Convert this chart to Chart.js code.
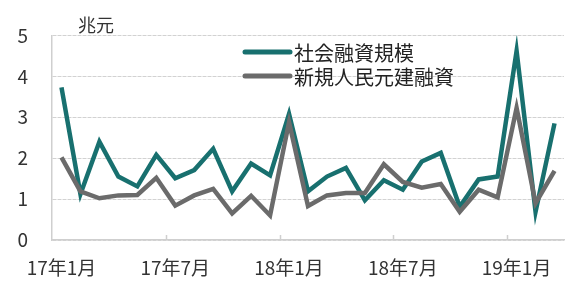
<!DOCTYPE html>
<html>
<head>
<meta charset="utf-8">
<script src="https://cdn.jsdelivr.net/npm/chart.js@4.4.1/dist/chart.umd.min.js"></script>
<style>
  html, body { margin: 0; padding: 0; background: #fff; }
  #wrap { width: 579px; height: 300px; position: relative; }
</style>
</head>
<body>
<div id="wrap"><canvas id="chart"></canvas></div>
<script>
// 月次データ（17年1月〜19年3月）
const months = [
  '17年1月','17年2月','17年3月','17年4月','17年5月','17年6月',
  '17年7月','17年8月','17年9月','17年10月','17年11月','17年12月',
  '18年1月','18年2月','18年3月','18年4月','18年5月','18年6月',
  '18年7月','18年8月','18年9月','18年10月','18年11月','18年12月',
  '19年1月','19年2月','19年3月'
];
const tsf = [3.73, 1.12, 2.40, 1.55, 1.31, 2.08, 1.51, 1.71, 2.23, 1.19, 1.87, 1.58,
             3.08, 1.19, 1.55, 1.76, 0.97, 1.46, 1.23, 1.92, 2.13, 0.81, 1.48, 1.55,
             4.62, 0.69, 2.85];
const loans = [2.02, 1.19, 1.02, 1.09, 1.10, 1.52, 0.84, 1.09, 1.25, 0.65, 1.08, 0.60,
               2.88, 0.83, 1.09, 1.15, 1.15, 1.85, 1.42, 1.28, 1.37, 0.69, 1.23, 1.04,
               3.23, 0.90, 1.69];
const yTicks = [0, 1, 2, 3, 4, 5];
const unitLabel = '兆元';

const FONT = "'Noto Sans CJK JP', 'Noto Sans', sans-serif";
const TEAL = '#18706f';
const GRAY = '#6b6b6b';

// 凡例・単位・x軸の内向き目盛
const extras = {
  id: 'extras',
  afterDraw(chart) {
    const ctx = chart.ctx;
    const x = chart.scales.x, y = chart.scales.y;
    ctx.save();
    // 目盛（半年ごと）
    ctx.strokeStyle = '#cfcfcf';
    ctx.lineWidth = 1.5;
    const half = (x.getPixelForValue(1) - x.getPixelForValue(0)) / 2;
    months.forEach((m, i) => {
      if (i % 6 !== 0 || i === 0) return;
      const px = Math.round(x.getPixelForValue(i) - half) + 0.5;
      ctx.beginPath();
      ctx.moveTo(px, y.bottom);
      ctx.lineTo(px, y.bottom - 5);
      ctx.stroke();
    });
    // 単位
    ctx.fillStyle = '#333';
    ctx.font = '18px ' + FONT;
    ctx.textBaseline = 'middle';
    ctx.textAlign = 'left';
    ctx.fillText(unitLabel, 78, 25);
    // 凡例
    ctx.font = '20px ' + FONT;
    const rows = [{ ds: chart.data.datasets[0], y: 52 }, { ds: chart.data.datasets[1], y: 76 }];
    rows.forEach(r => {
      ctx.strokeStyle = r.ds.borderColor;
      ctx.lineWidth = 5;
      ctx.lineCap = 'round';
      ctx.beginPath();
      ctx.moveTo(245, r.y);
      ctx.lineTo(290, r.y);
      ctx.stroke();
      ctx.fillStyle = '#222';
      ctx.fillText(r.ds.label, 294, r.y + 1);
    });
    ctx.restore();
  }
};

new Chart(document.getElementById('chart').getContext('2d'), {
  type: 'line',
  data: {
    labels: months,
    datasets: [
      { label: '社会融資規模', data: tsf, borderColor: TEAL, borderWidth: 4.5, order: 1 },
      { label: '新規人民元建融資', data: loans, borderColor: GRAY, borderWidth: 4.5, order: 0 }
    ]
  },
  options: {
    responsive: true,
    maintainAspectRatio: false,
    animation: false,
    layout: { padding: { left: 0, right: 15, top: 23, bottom: 0 } },
    elements: {
      line: { tension: 0, borderJoinStyle: 'miter', fill: false },
      point: { radius: 0, hoverRadius: 0 }
    },
    plugins: { legend: { display: false }, tooltip: { enabled: false } },
    scales: {
      x: {
        offset: true,
        grid: { display: true, drawOnChartArea: false, drawTicks: false, offset: true },
        border: { display: true, color: '#cfcfcf', width: 1.5 },
        ticks: {
          autoSkip: false,
          maxRotation: 0,
          padding: 16,
          color: '#333',
          font: { family: FONT, size: 19 },
          callback: (v, i) => (i % 6 === 0 ? months[i] : '')
        },
        afterFit(s) { s.height = 60; }
      },
      y: {
        min: 0,
        max: 5,
        afterBuildTicks(s) { s.ticks = yTicks.map(v => ({ value: v })); },
        grid: { color: '#d2d2d2', lineWidth: 1, drawTicks: false },
        border: { display: true, color: '#cfcfcf', width: 1.5, dash: [4, 1] },
        ticks: { padding: 24, color: '#333', font: { family: FONT, size: 19 } },
        afterFit(s) { s.width = 52; }
      }
    }
  },
  plugins: [extras]
});
</script>
</body>
</html>
